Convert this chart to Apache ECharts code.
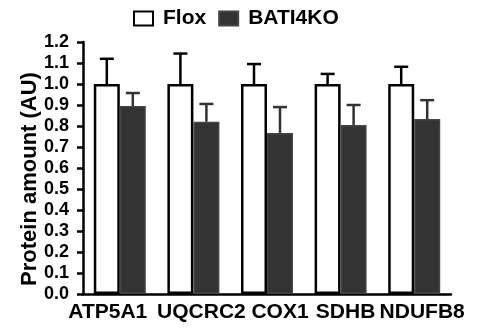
<!DOCTYPE html>
<html><head><meta charset="utf-8">
<script src="https://cdn.jsdelivr.net/npm/echarts@6/dist/echarts.min.js"></script>
<style>html,body{margin:0;padding:0;background:#fff}#c{width:484px;height:329px}</style>
</head><body><div id="c"></div>
<script>
var categories = ['ATP5A1', 'UQCRC2', 'COX1', 'SDHB', 'NDUFB8'];
var floxValues = [1.0, 1.0, 1.0, 1.0, 1.0];
var floxErrors = [0.12, 0.145, 0.095, 0.048, 0.082];
var koValues = [0.895, 0.82, 0.767, 0.805, 0.833];
var koErrors = [0.062, 0.085, 0.123, 0.095, 0.09];
var yTicks = [0, 0.1, 0.2, 0.3, 0.4, 0.5, 0.6, 0.7, 0.8, 0.9, 1.0, 1.1, 1.2];

var FONT = 'Liberation Sans, Arial, sans-serif';
var BW = 26;
// horizontal label nudges (px) to mimic the reference placement
var labelShift = [-12, 8, 13, 5, 8];

function errSeries(vals, errs, offset, color) {
  return {
    type: 'custom',
    z: 1,
    silent: true,
    data: vals.map(function (v, i) { return [i, v, v + errs[i]]; }),
    renderItem: function (params, api) {
      var base = api.coord([api.value(0), api.value(1)]);
      var top = api.coord([api.value(0), api.value(2)]);
      var x = base[0] + offset;
      var cap = 7;
      return {
        type: 'group',
        children: [
          { type: 'line', shape: { x1: x, y1: base[1], x2: x, y2: top[1] }, style: { stroke: color, lineWidth: 2.5 } },
          { type: 'line', shape: { x1: x - cap, y1: top[1], x2: x + cap, y2: top[1] }, style: { stroke: color, lineWidth: 2.5 } }
        ]
      };
    }
  };
}

var rich = {};
labelShift.forEach(function (s, i) {
  rich['s' + i] = {
    fontFamily: FONT, fontWeight: 'bold', fontSize: 21, color: '#000',
    padding: s < 0 ? [0, -2 * s, 0, 0] : [0, 0, 0, 2 * s]
  };
});

var chart = echarts.init(document.getElementById('c'));
chart.setOption({
  animation: false,
  grid: { left: 83, right: 33, top: 42, bottom: 35 },
  legend: {
    top: 3, left: 128,
    itemWidth: 19, itemHeight: 14, itemGap: 12,
    icon: 'rect',
    data: ['Flox', 'BATI4KO'],
    textStyle: { fontFamily: FONT, fontWeight: 'bold', fontSize: 21, color: '#000', padding: [0, 0, 0, 5] }
  },
  xAxis: {
    type: 'category',
    data: categories,
    axisLine: { lineStyle: { color: '#000', width: 2.5 } },
    axisTick: { alignWithLabel: true, length: 6, lineStyle: { color: '#000', width: 2.5 } },
    axisLabel: {
      fontFamily: FONT, fontWeight: 'bold', fontSize: 21, color: '#000', margin: 8, interval: 0,
      formatter: function (v, i) { return '{s' + i + '|' + v + '}'; },
      rich: rich
    }
  },
  yAxis: {
    type: 'value',
    min: 0, max: 1.2, interval: 0.1,
    name: 'Protein amount (AU)',
    nameLocation: 'middle',
    nameGap: 42,
    nameMoveOverlap: false,
    nameTextStyle: { fontFamily: FONT, fontWeight: 'bold', fontSize: 22, color: '#000', padding: [0, 22, 0, 0] },
    splitLine: { show: false },
    axisLine: { show: true, lineStyle: { color: '#000', width: 2.5 } },
    axisTick: { show: true, length: 6, lineStyle: { color: '#000', width: 2.5 } },
    axisLabel: {
      fontFamily: FONT, fontWeight: 'bold', fontSize: 18, color: '#000', margin: 14,
      formatter: function (v) {
        for (var i = 0; i < yTicks.length; i++) { if (Math.abs(yTicks[i] - v) < 1e-6) return yTicks[i].toFixed(1); }
        return '';
      }
    }
  },
  series: [
    errSeries(floxValues, floxErrors, -BW / 2, '#000'),
    errSeries(koValues, koErrors, BW / 2, '#333'),
    {
      name: 'Flox', type: 'bar', data: floxValues, barWidth: BW, barGap: '0%', z: 2,
      itemStyle: { color: '#fff', borderColor: '#000', borderWidth: 2.5 }
    },
    {
      name: 'BATI4KO', type: 'bar', data: koValues, barWidth: BW, barGap: '0%', z: 2,
      itemStyle: { color: '#333', borderColor: '#444', borderWidth: 1.5 }
    }
  ]
});
</script>
</body></html>
